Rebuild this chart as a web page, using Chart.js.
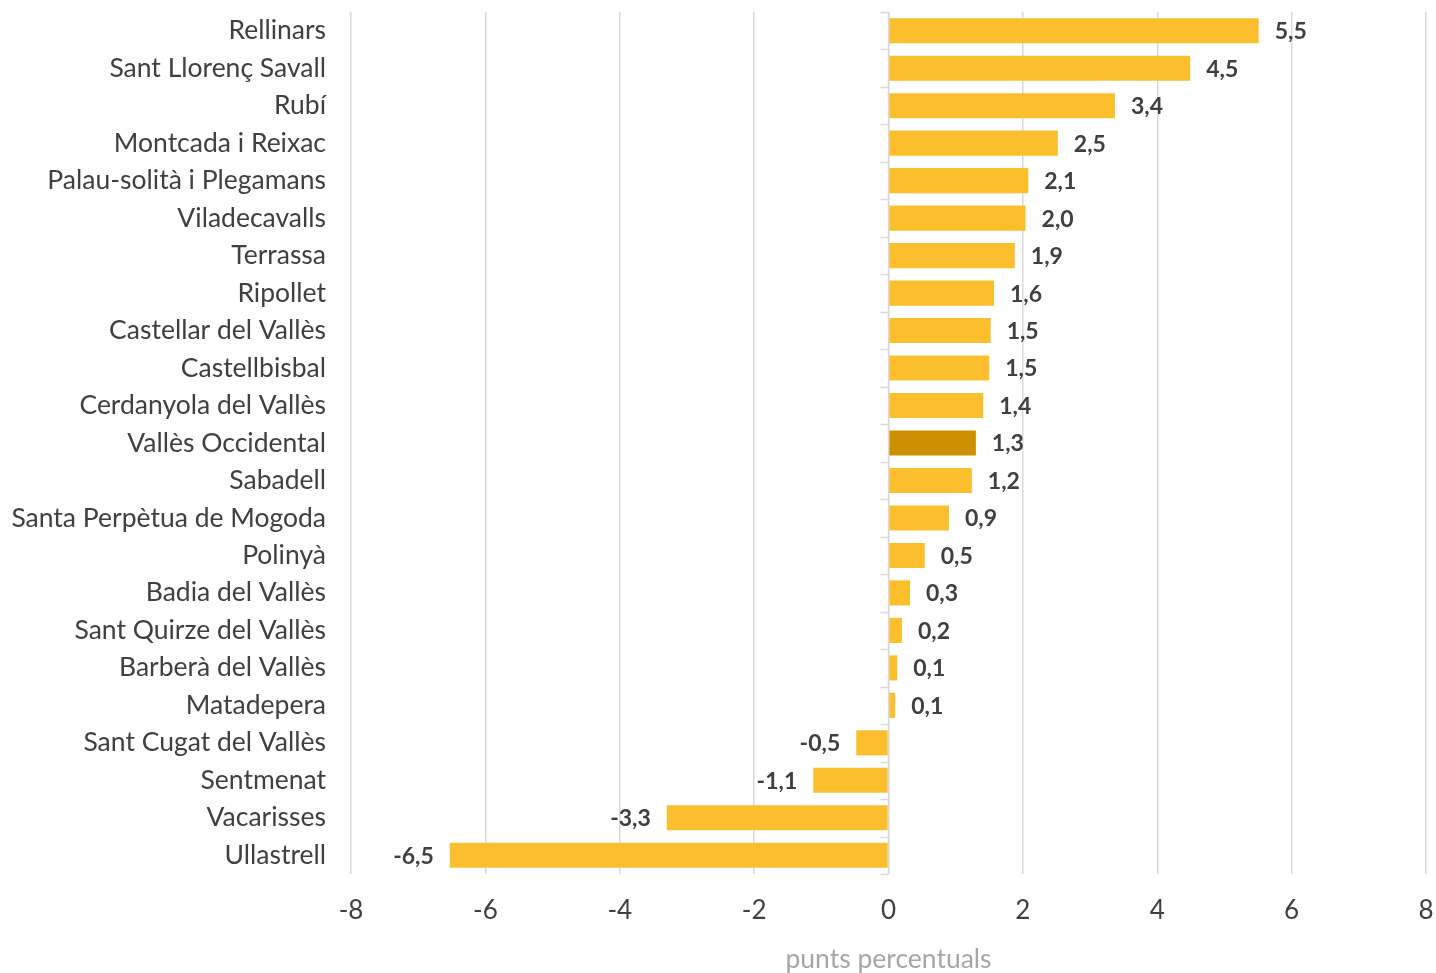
<!DOCTYPE html>
<html>
<head>
<meta charset="utf-8">
<script src="https://cdn.jsdelivr.net/npm/chart.js@4"></script>
<style>
  html, body { margin: 0; padding: 0; background: #fff; }
  #wrap { width: 1436px; height: 973px; }
</style>
</head>
<body>
<div id="wrap"><canvas id="myChart"></canvas></div>
<script>
const municipis = [
  'Rellinars', 'Sant Llorenç Savall', 'Rubí', 'Montcada i Reixac',
  'Palau-solità i Plegamans', 'Viladecavalls', 'Terrassa', 'Ripollet',
  'Castellar del Vallès', 'Castellbisbal', 'Cerdanyola del Vallès',
  'Vallès Occidental', 'Sabadell', 'Santa Perpètua de Mogoda', 'Polinyà',
  'Badia del Vallès', 'Sant Quirze del Vallès', 'Barberà del Vallès',
  'Matadepera', 'Sant Cugat del Vallès', 'Sentmenat', 'Vacarisses', 'Ullastrell'
];
const variacio = [
  5.51, 4.49, 3.37, 2.52, 2.08, 2.04, 1.88, 1.57, 1.52, 1.50, 1.41,
  1.30, 1.24, 0.90, 0.54, 0.32, 0.20, 0.13, 0.10, -0.48, -1.12, -3.30, -6.53
];
const comarca = 'Vallès Occidental';
const xTicks = [-8, -6, -4, -2, 0, 2, 4, 6, 8];

const COLORS = {
  bar: '#FBBF2D',
  highlight: '#CC9000',
  text: '#404040',
  grid: '#d9d9d9',
  title: '#a6a6a6'
};

const fmt = (v) => v.toFixed(1).replace('.', ',');

// etiquetes de valor al final de cada barra
const valueLabels = {
  id: 'valueLabels',
  afterDatasetsDraw(chart) {
    const ctx = chart.ctx;
    const meta = chart.getDatasetMeta(0);
    ctx.save();
    ctx.font = 'bold 23px Lato';
    ctx.fillStyle = COLORS.text;
    ctx.textBaseline = 'middle';
    meta.data.forEach((bar, i) => {
      const v = variacio[i];
      if (v >= 0) {
        ctx.textAlign = 'left';
        ctx.fillText(fmt(v), bar.x + 16, bar.y + 1);
      } else {
        ctx.textAlign = 'right';
        ctx.fillText(fmt(v), bar.x - 16, bar.y + 1);
      }
    });
    ctx.restore();
  }
};

// eix del zero amb marques entre categories
const zeroAxis = {
  id: 'zeroAxis',
  afterDatasetsDraw(chart) {
    const ctx = chart.ctx;
    const x0 = Math.round(chart.scales.x.getPixelForValue(0)) - 0.5;
    const area = chart.chartArea;
    ctx.save();
    ctx.strokeStyle = COLORS.grid;
    ctx.lineWidth = 1.5;
    ctx.beginPath();
    ctx.moveTo(x0, area.top);
    ctx.lineTo(x0, area.bottom);
    const step = (area.bottom - area.top) / municipis.length;
    for (let i = 0; i <= municipis.length; i++) {
      const yy = Math.round(area.top + i * step) + 0.5;
      ctx.moveTo(x0 - 8, yy);
      ctx.lineTo(x0, yy);
    }
    ctx.stroke();
    ctx.restore();
  }
};

const ctx = document.getElementById('myChart').getContext('2d');

const config = {
  type: 'bar',
  data: {
    labels: municipis,
    datasets: [{
      data: variacio,
      backgroundColor: municipis.map((m) => m === comarca ? COLORS.highlight : COLORS.bar),
      barPercentage: 0.67,
      categoryPercentage: 1
    }]
  },
  options: {
    indexAxis: 'y',
    responsive: true,
    maintainAspectRatio: false,
    animation: false,
    layout: { padding: { top: 12, right: 10, left: 0, bottom: 0 } },
    plugins: {
      legend: { display: false },
      tooltip: { enabled: false }
    },
    scales: {
      x: {
        min: -8,
        max: 8,
        afterBuildTicks: (scale) => { scale.ticks = xTicks.map((v) => ({ value: v })); },
        afterFit: (scale) => {
          scale.height = 99;
          scale.paddingLeft = 0;
          scale.paddingRight = 0;
        },
        grid: { color: COLORS.grid, lineWidth: 1.5, drawTicks: false },
        border: { display: false },
        ticks: {
          font: { family: 'Lato', size: 26 },
          color: COLORS.text,
          padding: 21
        },
        title: {
          display: true,
          text: 'punts percentuals',
          font: { family: 'Lato', size: 26.5, lineHeight: 1 },
          color: COLORS.title,
          padding: { top: 18, bottom: 0 }
        }
      },
      y: {
        afterFit: (scale) => {
          scale.width = 351;
          scale.paddingTop = 0;
          scale.paddingBottom = 0;
        },
        grid: { display: false, drawTicks: false },
        border: { display: false },
        ticks: {
          font: { family: 'Lato', size: 26.5 },
          color: COLORS.text,
          padding: 25,
          autoSkip: false
        }
      }
    }
  },
  plugins: [valueLabels, zeroAxis]
};

new Chart(ctx, config);
</script>
</body>
</html>
